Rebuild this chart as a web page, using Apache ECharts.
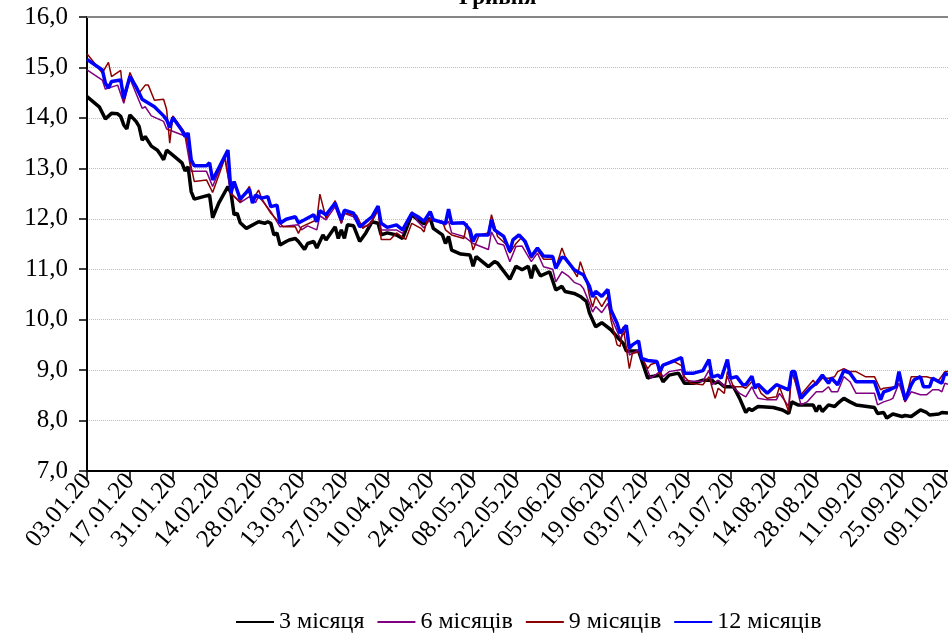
<!DOCTYPE html>
<html><head><meta charset="utf-8">
<script src="https://cdn.jsdelivr.net/npm/echarts@6/dist/echarts.min.js"></script>
<style>html,body{margin:0;padding:0;background:#fff;overflow:hidden}#c{width:948px;height:636px}</style>
</head><body><div id="c"></div>
<script>
// ---- data ----
const tickLabels = ['03.01.20','17.01.20','31.01.20','14.02.20','28.02.20','13.03.20','27.03.20','10.04.20','24.04.20','08.05.20','22.05.20','05.06.20','19.06.20','03.07.20','17.07.20','31.07.20','14.08.20','28.08.20','11.09.20','25.09.20','09.10.20'];
const seriesNames = ['3 місяця','6 місяців','9 місяців','12 місяців'];

const dates3m = [
 '03.01','07.01','09.01','11.01','13.01','14.01','15.01','16.01','17.01','19.01','20.01','21.01','22.01','24.01','26.01','27.01','28.01','29.01','31.01',
 '03.02','04.02','05.02','06.02','07.02','10.02','12.02','13.02','15.02','18.02','19.02','20.02','21.02','22.02','24.02','28.02',
 '01.03','02.03','03.03','04.03','05.03','06.03','08.03','09.03','11.03','12.03','14.03','15.03','17.03','18.03','20.03','21.03','24.03','25.03','26.03','27.03','28.03','30.03',
 '01.04','03.04','05.04','07.04','08.04','10.04','13.04','15.04','18.04','20.04','22.04','24.04','25.04','28.04','29.04','30.04',
 '01.05','04.05','07.05','08.05','09.05','13.05','15.05','16.05','20.05','22.05','24.05','26.05','27.05','28.05','30.05',
 '02.06','04.06','06.06','07.06','10.06','12.06','14.06','15.06','17.06','19.06','22.06','24.06','26.06','27.06',
 '01.07','02.07','04.07','05.07','08.07','09.07','11.07','14.07','16.07','19.07','22.07','25.07','26.07','27.07','29.07',
 '01.08','03.08','05.08','06.08','07.08','09.08','14.08','17.08','19.08','20.08','22.08','27.08','28.08','29.08','30.08',
 '01.09','03.09','04.09','06.09','08.09','10.09','16.09','17.09','19.09','20.09','22.09','25.09','26.09','28.09',
 '01.10','03.10','04.10','07.10','08.10','10.10'];
const rates3m = [
 14.42,14.22,13.98,14.09,14.08,14.03,13.86,13.78,14.06,13.93,13.83,13.56,13.63,13.44,13.36,13.27,13.17,13.36,13.26,
 13.11,12.95,13.03,12.54,12.39,12.44,12.47,12.02,12.31,12.64,12.51,12.08,12.11,11.92,11.81,11.94,
 11.91,11.94,11.91,11.68,11.72,11.48,11.55,11.58,11.61,11.55,11.39,11.51,11.55,11.42,11.68,11.58,11.84,11.61,11.78,11.61,11.88,11.86,
 11.55,11.72,11.94,11.91,11.68,11.72,11.68,11.61,12.08,11.98,11.90,12.01,11.81,11.68,11.51,11.65,
 11.38,11.30,11.28,11.06,11.25,11.05,11.15,11.12,10.80,11.06,10.99,11.06,10.82,11.08,10.87,
 10.95,10.59,10.66,10.56,10.52,10.46,10.36,10.13,9.86,9.94,9.80,9.66,9.53,9.38,
 9.38,9.20,8.84,8.87,8.90,8.77,8.90,8.94,8.74,8.74,8.80,8.80,8.74,8.77,8.67,
 8.67,8.44,8.16,8.24,8.20,8.28,8.26,8.21,8.14,8.37,8.31,8.31,8.18,8.30,8.18,
 8.31,8.28,8.34,8.44,8.37,8.31,8.26,8.14,8.16,8.05,8.13,8.08,8.10,8.08,
 8.21,8.16,8.11,8.13,8.16,8.15];

const dates6m = [
 '03.01','08.01','09.01','13.01','15.01','17.01','21.01','22.01','24.01','28.01','29.01',
 '04.02','06.02','11.02','13.02','17.02','19.02','22.02','25.02','27.02','28.02',
 '03.03','06.03','09.03','12.03','13.03','15.03','18.03','19.03','21.03','24.03','26.03','27.03','30.03',
 '01.04','04.04','07.04','08.04','13.04','15.04','18.04','20.04','22.04','24.04','29.04','30.04',
 '01.05','05.05','08.05','13.05','14.05','16.05','18.05','20.05','22.05','24.05','27.05','29.05','31.05',
 '03.06','04.06','06.06','08.06','10.06','12.06','13.06','15.06','16.06','17.06','19.06','21.06','22.06','25.06','27.06','28.06',
 '01.07','03.07','05.07','08.07','09.07','11.07','15.07','16.07','19.07','22.07','24.07','25.07','27.07','29.07','30.07','31.07',
 '03.08','05.08','07.08','08.08','09.08','12.08','15.08','16.08','19.08','20.08','21.08','23.08','25.08','28.08','30.08',
 '01.09','02.09','04.09','06.09','08.09','10.09','16.09','17.09','19.09','21.09','22.09','24.09','26.09','28.09',
 '01.10','03.10','05.10','07.10','08.10','09.10','10.10'];
const rates6m = [
 14.95,14.75,14.57,14.65,14.29,14.78,14.19,14.22,14.04,13.93,13.78,
 13.64,12.94,12.94,12.64,13.23,12.51,12.32,12.44,12.32,12.45,
 12.14,11.84,11.86,11.88,11.78,11.86,11.78,12.06,11.98,12.24,11.91,12.11,12.04,
 11.84,11.86,12.18,11.78,11.78,11.71,12.14,11.94,11.82,12.00,11.88,11.95,
 11.72,11.65,11.51,11.39,11.74,11.51,11.48,11.15,11.45,11.46,11.15,11.32,11.05,
 11.00,10.75,10.95,10.87,10.74,10.69,10.62,10.32,10.15,10.26,10.14,10.32,10.06,9.63,9.79,9.30,
 9.40,9.14,8.84,8.97,8.87,8.97,9.01,8.80,8.78,8.78,9.00,8.71,8.80,8.67,8.88,8.71,
 8.54,8.47,8.67,8.54,8.44,8.41,8.41,8.54,8.28,8.97,8.80,8.31,8.37,8.57,8.57,
 8.67,8.57,8.57,8.87,8.77,8.54,8.54,8.31,8.37,8.41,8.44,8.74,8.37,8.57,
 8.51,8.51,8.61,8.61,8.57,8.74,8.72];

const dates9m = [
 '03.01','08.01','10.01','11.01','14.01','15.01','17.01','20.01','22.01','23.01','25.01','28.01','29.01','30.01','31.01',
 '04.02','05.02','06.02','07.02','11.02','13.02','17.02','19.02','22.02','25.02','26.02','28.02','29.02',
 '03.03','07.03','11.03','12.03','13.03','18.03','19.03','21.03','24.03','26.03','27.03','31.03',
 '02.04','05.04','07.04','08.04','11.04','13.04','16.04','18.04','21.04','22.04','23.04','28.04','29.04',
 '01.05','05.05','06.05','08.05','10.05','13.05','14.05','16.05','19.05','20.05','22.05','24.05','27.05','29.05','31.05',
 '03.06','04.06','06.06','07.06','10.06','11.06','12.06','14.06','15.06','16.06','17.06','19.06','21.06','22.06','24.06','25.06','26.06','28.06','29.06',
 '01.07','04.07','05.07','07.07','08.07','09.07','12.07','15.07','16.07','18.07','22.07','24.07','26.07','27.07','29.07','30.07',
 '01.08','04.08','05.08','07.08','09.08','10.08','12.08','15.08','16.08','19.08','20.08','22.08','23.08','27.08','28.08','30.08',
 '01.09','03.09','04.09','06.09','08.09','10.09','13.09','16.09','18.09','19.09','23.09','24.09','26.09','28.09',
 '03.10','07.10','09.10','10.10'];
const rates9m = [
 15.27,14.89,15.10,14.82,14.94,14.33,14.90,14.49,14.65,14.65,14.35,14.37,14.16,13.50,14.04,
 13.70,13.43,13.03,12.74,12.77,12.52,13.20,12.49,12.34,12.64,12.37,12.57,12.40,
 12.11,11.84,11.84,11.71,11.84,11.98,12.49,12.01,12.36,11.91,12.11,12.07,
 11.81,11.94,12.18,11.59,11.59,11.72,11.59,11.91,11.81,11.74,11.98,11.95,11.78,
 11.68,11.61,11.91,11.38,11.68,11.72,12.08,11.65,11.48,11.32,11.51,11.64,11.22,11.38,11.20,
 11.20,11.02,11.42,11.26,10.95,10.85,11.15,10.79,10.46,10.25,10.46,10.26,10.46,9.99,9.50,9.47,9.86,9.03,9.33,
 9.36,9.03,9.11,9.15,8.87,9.09,9.19,9.09,8.87,8.74,8.71,8.87,8.44,8.64,8.54,8.97,
 8.67,8.67,8.64,8.77,8.67,8.54,8.44,8.47,8.67,8.18,8.97,8.64,8.51,8.80,8.70,8.84,
 8.84,8.87,8.97,9.03,8.97,8.97,8.87,8.87,8.61,8.64,8.67,8.90,8.37,8.87,
 8.87,8.80,8.97,8.97];

const dates12m = [
 '03.01','08.01','09.01','10.01','11.01','14.01','15.01','17.01','19.01','21.01','25.01','28.01','29.01','30.01','31.01',
 '03.02','04.02','05.02','06.02','07.02','11.02','12.02','13.02','18.02','19.02','20.02','22.02','25.02','26.02','27.02','29.02',
 '02.03','03.03','05.03','06.03','08.03','11.03','12.03','14.03','17.03','18.03','19.03','21.03','24.03','26.03','27.03','30.03',
 '01.04','05.04','07.04','08.04','10.04','13.04','15.04','18.04','20.04','22.04','24.04','25.04','29.04','30.04',
 '01.05','05.05','07.05','08.05','09.05','13.05','14.05','15.05','18.05','20.05','21.05','23.05','25.05','27.05','29.05','31.05',
 '03.06','04.06','06.06','07.06','10.06','12.06','13.06','15.06','16.06','17.06','19.06','21.06','22.06','24.06','25.06','27.06','28.06','29.06',
 '01.07','02.07','04.07','07.07','08.07','09.07','12.07','15.07','16.07','19.07','22.07','24.07','25.07','27.07','28.07','30.07','31.07',
 '02.08','04.08','05.08','07.08','08.08','09.08','11.08','12.08','15.08','19.08','20.08','21.08','23.08','26.08','28.08','30.08',
 '01.09','02.09','04.09','06.09','08.09','10.09','16.09','18.09','19.09','21.09','23.09','24.09','26.09','28.09','29.09',
 '01.10','02.10','04.10','05.10','07.10','08.10','09.10','10.10'];
const rates12m = [
 15.16,14.95,14.69,14.59,14.72,14.75,14.39,14.82,14.62,14.37,14.22,14.04,13.96,13.81,14.01,
 13.75,13.63,13.70,13.17,13.05,13.05,13.11,12.77,13.36,12.51,12.74,12.39,12.59,12.31,12.47,12.41,
 12.44,12.24,12.27,11.91,11.99,12.04,11.92,11.98,12.08,11.94,12.16,12.08,12.31,11.98,12.17,12.11,
 11.84,12.04,12.25,11.91,11.83,11.88,11.78,12.11,12.04,11.95,12.14,11.98,11.91,12.19,
 11.91,11.92,11.78,11.55,11.68,11.68,11.98,11.78,11.65,11.35,11.58,11.68,11.55,11.25,11.42,11.26,
 11.25,11.02,11.24,11.22,10.99,10.92,10.89,10.66,10.45,10.56,10.46,10.60,10.19,9.93,9.73,9.89,9.43,9.50,
 9.58,9.23,9.19,9.17,8.97,9.10,9.17,9.25,8.94,8.94,8.99,9.21,8.86,8.90,8.84,9.21,8.84,
 8.87,8.71,8.71,8.88,8.64,8.72,8.60,8.54,8.71,8.61,8.97,8.97,8.44,8.64,8.74,8.90,
 8.74,8.84,8.71,8.99,8.94,8.77,8.77,8.41,8.57,8.61,8.67,8.97,8.41,8.71,8.81,
 8.87,8.67,8.67,8.84,8.77,8.74,8.94,8.90];

// ---- helpers ----
const DAY0 = Date.UTC(2020, 0, 3);
function dayOf(s) { const p = s.split('.').map(Number); return (Date.UTC(2020, p[1] - 1, p[0]) - DAY0) / 864e5; }
function pairs(ds, vs) {
  if (ds.length !== vs.length) console.error('length mismatch', ds.length, vs.length);
  return ds.map((d, i) => [dayOf(d), vs[i]]);
}
const FONT = "'Liberation Serif','Times New Roman',serif";
const xMax = 281;

const chart = echarts.init(document.getElementById('c'), null, { renderer: 'canvas' });
const mk = (name, ds, vs, color, w) => ({
  name, type: 'line', data: pairs(ds, vs), symbol: 'none', showSymbol: false,
  lineStyle: { color, width: w }, itemStyle: { color }, animation: false
});
chart.setOption({
  backgroundColor: '#fff',
  animation: false,
  title: {
    text: 'Гривня', left: 454, top: -18,
    textStyle: { fontFamily: FONT, fontSize: 23, fontWeight: 'bold', color: '#000' }
  },
  grid: { left: 87, right: 0, top: 17, bottom: 165, containLabel: false, outerBoundsMode: 'none' },
  legend: {
    bottom: -3, left: 230, itemWidth: 38, itemHeight: 12, itemGap: 12,
    itemStyle: { opacity: 0 },
    textStyle: { fontFamily: FONT, fontSize: 24, color: '#000' },
    data: seriesNames
  },
  xAxis: [{
    type: 'value', min: 0, max: xMax, interval: 14,
    axisLine: { lineStyle: { color: '#000', width: 2 } },
    axisTick: { show: true, length: 8, lineStyle: { color: '#000', width: 1.5 } },
    axisLabel: {
      rotate: 50, margin: 6, color: '#000', fontFamily: FONT, fontSize: 25,
      formatter: v => tickLabels[Math.round(v / 14)] || ''
    },
    splitLine: { show: false }
  }, {
    type: 'value', min: 0, max: xMax, position: 'top',
    axisLine: { show: true, lineStyle: { color: '#858585', width: 2 } },
    axisTick: { show: false }, axisLabel: { show: false }, splitLine: { show: false }
  }],
  yAxis: {
    type: 'value', min: 7, max: 16, interval: 1,
    axisLine: { show: true, lineStyle: { color: '#000', width: 2 } },
    axisTick: { show: true, length: 8, lineStyle: { color: '#000', width: 1.5 } },
    axisLabel: {
      margin: 19, color: '#000', fontFamily: FONT, fontSize: 25,
      formatter: v => v.toFixed(1).replace('.', ',')
    },
    splitLine: { show: true, lineStyle: { color: '#bdbdbd', width: 1, type: 'dotted' } }
  },
  series: [
    mk(seriesNames[0], dates3m, rates3m, '#000000', 3.5),
    mk(seriesNames[1], dates6m, rates6m, '#800080', 1.5),
    mk(seriesNames[2], dates9m, rates9m, '#8B0000', 1.5),
    mk(seriesNames[3], dates12m, rates12m, '#0000FF', 3.5)
  ]
});
</script></body></html>
